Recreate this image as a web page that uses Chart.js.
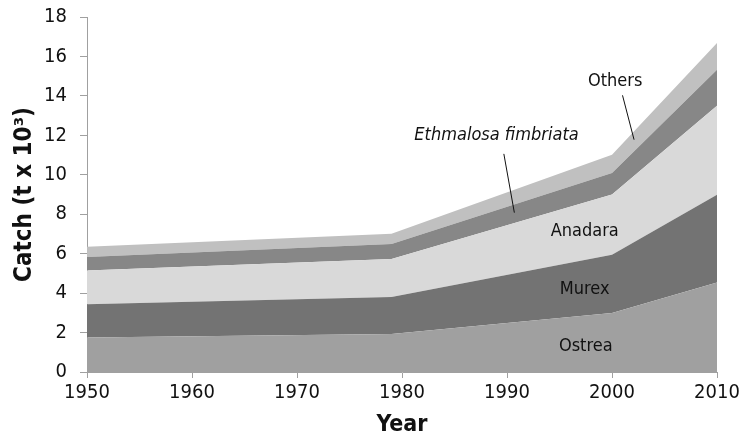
<!DOCTYPE html>
<html>
<head>
<meta charset="utf-8">
<script src="https://cdn.jsdelivr.net/npm/chart.js@4/dist/chart.umd.min.js"></script>
<style>
  html, body { margin: 0; padding: 0; background: #fff; }
  #wrap { width: 753px; height: 439px; }
</style>
</head>
<body>
<div id="wrap"><canvas id="c" width="753" height="439"></canvas></div>
<script>
const FONT = '"DejaVu Sans Condensed", "DejaVu Sans", sans-serif'

const years = [1950, 1979, 2000, 2010]
const ostrea = [1.75, 1.93, 2.99, 4.54]
const murex = [1.68, 1.87, 2.96, 4.45]
const anadara = [1.72, 1.93, 3.05, 4.51]
const ethmalosa = [0.68, 0.76, 1.09, 1.83]
const others = [0.52, 0.52, 0.93, 1.35]
const yTicks = [0, 2, 4, 6, 8, 10, 12, 14, 16, 18]
const xTicks = [1950, 1960, 1970, 1980, 1990, 2000, 2010]

// in-chart labels, in data units (year, catch)
const notes = [
  { text: 'Ostrea', x: 1997.5, y: 1.3 },
  { text: 'Murex', x: 1997.4, y: 4.2 },
  { text: 'Anadara', x: 1997.4, y: 7.15 },
  { text: 'Ethmalosa fimbriata', x: 1989.0, y: 12.0, italic: true },
  { text: 'Others', x: 2000.3, y: 14.75 }
]
const leaders = [
  [1989.7, 11.06, 1990.7, 8.08],
  [2001.0, 14.03, 2002.1, 11.78]
]

const toPts = vals => vals.map((v, i) => ({ x: years[i], y: v }))

const series = [
  { label: 'Ostrea', data: ostrea, color: '#a0a0a0', fill: 'origin' },
  { label: 'Murex', data: murex, color: '#737373', fill: '-1' },
  { label: 'Anadara', data: anadara, color: '#d9d9d9', fill: '-1' },
  { label: 'Ethmalosa fimbriata', data: ethmalosa, color: '#878787', fill: '-1' },
  { label: 'Others', data: others, color: '#c0c0c0', fill: '-1' }
]

const notesPlugin = {
  id: 'notes',
  afterDatasetsDraw(chart) {
    const ctx = chart.ctx
    const xs = chart.scales.x
    const ys = chart.scales.y
    ctx.save()
    ctx.fillStyle = '#111'
    ctx.textAlign = 'center'
    ctx.textBaseline = 'middle'
    notes.forEach(n => {
      ctx.font = (n.italic ? 'italic ' : '') + '18px ' + FONT
      ctx.fillText(n.text, xs.getPixelForValue(n.x), ys.getPixelForValue(n.y))
    })
    ctx.strokeStyle = '#111'
    ctx.lineWidth = 1
    leaders.forEach(l => {
      ctx.beginPath()
      ctx.moveTo(xs.getPixelForValue(l[0]), ys.getPixelForValue(l[1]))
      ctx.lineTo(xs.getPixelForValue(l[2]), ys.getPixelForValue(l[3]))
      ctx.stroke()
    })
    ctx.restore()
  }
}

new Chart(document.getElementById('c'), {
  type: 'line',
  data: {
    datasets: series.map(s => ({
      label: s.label,
      data: toPts(s.data),
      backgroundColor: s.color,
      borderColor: s.color,
      borderWidth: 0,
      pointRadius: 0,
      fill: s.fill,
      tension: 0
    }))
  },
  options: {
    responsive: false,
    animation: false,
    layout: { padding: { top: 17, right: 36, bottom: 0, left: 0 } },
    plugins: {
      legend: { display: false },
      tooltip: { enabled: false }
    },
    scales: {
      x: {
        type: 'linear',
        min: 1950,
        max: 2010,
        afterBuildTicks: s => { s.ticks = xTicks.map(v => ({ value: v })) },
        afterFit: s => { s.height = 67; s.paddingLeft = 0; s.paddingRight = 0 },
        grid: { drawOnChartArea: false, tickLength: 6, color: '#a0a0a0' },
        border: { color: '#a0a0a0', width: 1 },
        ticks: {
          color: '#111',
          padding: 3,
          font: { family: FONT, size: 20 },
          callback: v => String(v)
        },
        title: {
          display: true,
          text: 'Year',
          color: '#111',
          padding: { top: 0, bottom: 0 },
          font: { family: FONT, size: 23, weight: 'bold' }
        }
      },
      y: {
        stacked: true,
        min: 0,
        max: 18,
        afterBuildTicks: s => { s.ticks = yTicks.map(v => ({ value: v })) },
        afterFit: s => { s.width = 87; s.paddingTop = 0; s.paddingBottom = 0 },
        grid: { drawOnChartArea: false, tickLength: 7, color: '#a0a0a0' },
        border: { color: '#a0a0a0', width: 1 },
        ticks: { color: '#111', padding: 13, font: { family: FONT, size: 20 } },
        title: {
          display: true,
          text: 'Catch (t x 10³)',
          color: '#111',
          padding: { top: 10, bottom: 0 },
          font: { family: FONT, size: 24, weight: 'bold' }
        }
      }
    }
  },
  plugins: [notesPlugin]
})
</script>
</body>
</html>
